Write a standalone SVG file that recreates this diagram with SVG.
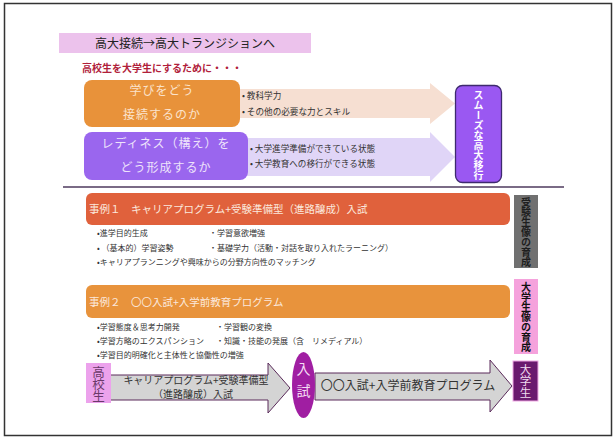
<svg xmlns="http://www.w3.org/2000/svg" width="616" height="438" viewBox="0 0 616 438">
<style>
text{font-family:"Noto Sans CJK JP","Noto Sans",sans-serif;}
.bl{font-size:8px;fill:#333;}
.bl2{font-size:8.6px;fill:#333;}
.box1{font-size:12px;fill:#fbe3cc;letter-spacing:1px;}
.box2{font-size:12px;fill:#eee3fb;letter-spacing:1px;}
.case{font-size:10.5px;fill:#fbe8dc;}
.vt{writing-mode:vertical-rl;text-anchor:middle;}
.garrow{fill:#d4d4d4;stroke:#5a2a5a;stroke-width:1;}
</style>
<rect x="4.5" y="3.5" width="607" height="432" fill="#fff" stroke="#333" stroke-width="1.5"/>
<g id="title">
<rect x="59" y="33" width="252" height="20" fill="#ecc2ec"/>
<text x="185" y="47.5" font-size="12" fill="#222" text-anchor="middle">高大接続→高大トランジションへ</text>
</g>
<g id="subtitle">
<text x="82" y="72" font-size="10" font-weight="bold" fill="#b0203a">高校生を大学生にするために・・・</text>
</g>
<g id="connectors">
<polygon points="238,89 430,89 430,83 455,103.5 430,124 430,118 238,118" fill="#f6dfd2"/>
<polygon points="246,138 430,138 430,132 455,157 430,182 430,176 246,176" fill="#e0d5f7"/>
<polygon class="garrow" points="110,375 268,375 268,363 290,388 268,413 268,400 110,400"/>
<polygon class="garrow" points="315,373 490,373 490,360 512,386 490,412 490,400 315,400"/>
<line x1="63" y1="187" x2="564" y2="187" stroke="#4e3a5e" stroke-width="1.5"/>
</g>
<g id="node-manabi">
<rect x="84" y="80" width="156" height="47" rx="8" fill="#e8923a"/>
<text class="box1" x="162" y="95" text-anchor="middle">学びをどう</text>
<text class="box1" x="162" y="119" text-anchor="middle">接続するのか</text>
</g>
<g id="bullets-1">
<text class="bl2" x="242" y="98.5">• 教科学力</text>
<text class="bl2" x="242" y="114.5">• その他の必要な力とスキル</text>
</g>
<g id="node-readiness">
<rect x="84" y="132" width="164" height="48" rx="8" fill="#9a66ee"/>
<text class="box2" x="166" y="147.5" text-anchor="middle">レディネス（構え）を</text>
<text class="box2" x="166" y="171.5" text-anchor="middle">どう形成するか</text>
</g>
<g id="bullets-2">
<text class="bl2" x="250" y="152">• 大学進学準備ができている状態</text>
<text class="bl2" x="250" y="166.5">• 大学教育への移行ができる状態</text>
</g>
<g id="node-smooth">
<rect x="455.5" y="85.5" width="46" height="97" rx="7" fill="#9a58f2" stroke="#3e2a6e" stroke-width="1.3"/>
<text class="vt" x="478.5" y="135" font-size="10" font-weight="bold" fill="#fff">スムーズな高大移行</text>
</g>
<g id="node-case1">
<rect x="86" y="193" width="424" height="32" rx="6" fill="#e0613c"/>
<text class="case" x="89" y="213">事例１　キャリアプログラム+受験準備型（進路醸成）入試</text>
</g>
<g id="bullets-case1">
<text class="bl" x="97" y="236">•進学目的生成</text>
<text class="bl" x="209" y="236">・学習意欲増強</text>
<text class="bl" x="97" y="251">• （基本的）学習姿勢</text>
<text class="bl" x="209" y="251">・基礎学力（活動・対話を取り入れたラーニング）</text>
<text class="bl" x="97" y="265">•キャリアプランニングや興味からの分野方向性のマッチング</text>
</g>
<g id="label-juken">
<rect x="514" y="195" width="24" height="73" fill="#707070"/>
<text class="vt" x="526" y="232" font-size="10" font-weight="bold" fill="#1e1e1e">受験生像の育成</text>
</g>
<g id="node-case2">
<rect x="86" y="285" width="424" height="33" rx="6" fill="#e8933c"/>
<text class="case" x="89" y="305.5">事例２　〇〇入試+入学前教育プログラム</text>
</g>
<g id="bullets-case2">
<text class="bl" x="97" y="330">•学習態度＆思考力開発</text>
<text class="bl" x="216" y="330">・学習観の変換</text>
<text class="bl" x="97" y="344">•学習方略のエクスパンション</text>
<text class="bl" x="216" y="344">・知識・技能の発展（含　リメディアル）</text>
<text class="bl" x="97" y="358">•学習目的明確化と主体性と協働性の増強</text>
</g>
<g id="label-daigaku">
<rect x="514" y="279" width="24" height="75" fill="#f5a2dc"/>
<text class="vt" x="526" y="317" font-size="10" font-weight="bold" fill="#111">大学生像の育成</text>
</g>
<g id="node-koukousei">
<rect x="86" y="363" width="25" height="40" fill="#eca2ec"/>
<text class="vt" x="98.5" y="383.5" font-size="12.5" fill="#6a3a6a" letter-spacing="-0.5">高校生</text>
</g>
<g id="arrow1-label" font-size="10" fill="#333" text-anchor="middle">
<text x="196" y="383.5">キャリアプログラム+受験準備型</text>
<text x="193" y="398">（進路醸成）入試</text>
</g>
<g id="node-nyushi">
<ellipse cx="303.5" cy="385" rx="11.5" ry="33" fill="#a01ea2"/>
<text class="vt" x="303.5" y="384" font-size="14" fill="#f4dcf4" letter-spacing="8">入試</text>
</g>
<g id="arrow2-label">
<text x="408" y="390" font-size="12" fill="#333" text-anchor="middle">〇〇入試+入学前教育プログラム</text>
</g>
<g id="node-daigakusei">
<rect x="513" y="361" width="25" height="40" fill="#6a1a6e" stroke="#f0a8e4" stroke-width="1"/>
<text class="vt" x="525.5" y="381" font-size="11.5" fill="#f0dcf0">大学生</text>
</g>
</svg>
